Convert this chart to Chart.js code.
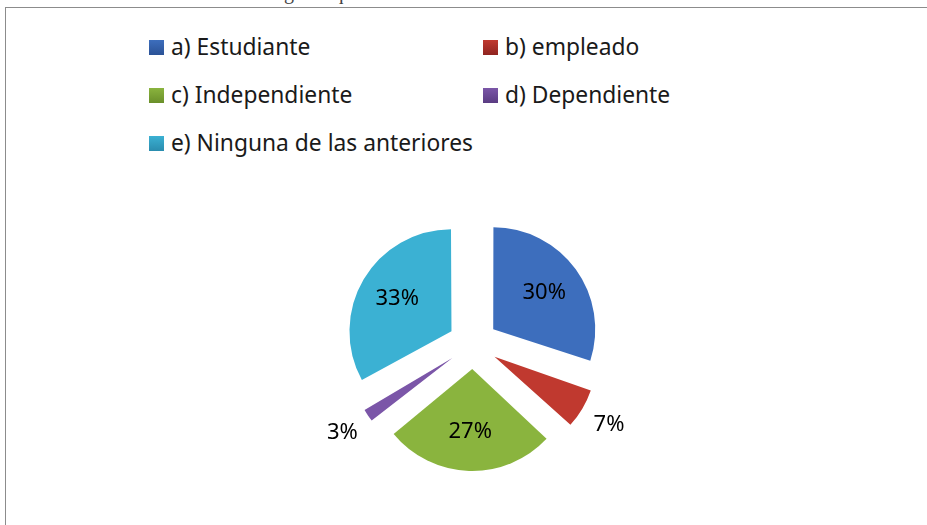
<!DOCTYPE html>
<html>
<head>
<meta charset="utf-8">
<script src="https://cdn.jsdelivr.net/npm/chart.js@4"></script>
<style>
  html, body { margin: 0; padding: 0; background: #fff; }
  #page { position: relative; width: 927px; height: 525px; overflow: hidden; }
  #titulo { position: absolute; left: 58px; top: -19px; font: 20px "Liberation Serif", serif; color: #444; white-space: nowrap; }
  #marco { position: absolute; left: 5px; top: 7px; width: 940px; height: 540px; border: 1.5px solid #8c8c8c; box-sizing: border-box; background: #fff; }
  #leyenda { position: absolute; left: 149px; top: 33px; font: 22.8px "Noto Sans", sans-serif; color: #1a1a1a; }
  .item { position: absolute; white-space: nowrap; height: 28px; line-height: 28px; }
  .item span.caja { position: absolute; left: 0; top: 7px; width: 15px; height: 15px; }
  .item span.txt { position: absolute; left: 22px; top: 0; }
  #wrap { position: absolute; left: 0; top: 0; width: 927px; height: 525px; }
</style>
</head>
<body>
<div id="page">
  <div id="titulo">Gráfico de la encuesta de negocio que actividad realiza</div>
  <div id="marco"></div>
  <div id="leyenda"></div>
  <div id="wrap"><canvas id="grafico"></canvas></div>
</div>
<script>
const categorias = ["a) Estudiante", "b) empleado", "c) Independiente", "d) Dependiente", "e) Ninguna de las anteriores"];
const porcentajes = [30, 7, 27, 3, 33];
const colores = ["#3d6ebd", "#c0392f", "#8ab43e", "#7b56a8", "#3bb1d3"];
const oscuros = ["#2b5296", "#8f2420", "#6a8f2a", "#5a3c82", "#2a8cae"];

const RADIO = 102;
const SEPARACION = 100; // Chart.js lo divide entre 4 al dibujar

// leyenda en dos columnas
const leyenda = document.getElementById("leyenda");
categorias.forEach((cat, i) => {
    const div = document.createElement("div");
    div.className = "item";
    div.style.left = (i % 2 === 0 ? 0 : 334) + "px";
    div.style.top = (Math.floor(i / 2) * 48) + "px";
    div.innerHTML = '<span class="caja" style="background:linear-gradient(' + colores[i] + ',' + oscuros[i] + ')"></span><span class="txt">' + cat + '</span>';
    leyenda.appendChild(div);
});

function relleno(context) {
    const chart = context.chart;
    const i = context.dataIndex;
    const arc = chart.getDatasetMeta(0).data[i];
    if (!arc || !arc.x) return colores[i];
    const g = chart.ctx.createRadialGradient(arc.x, arc.y, 0, arc.x, arc.y, RADIO + 25);
    g.addColorStop(0, colores[i]);
    g.addColorStop(0.8, colores[i]);
    g.addColorStop(1, oscuros[i]);
    return g;
}

// las porciones pequeñas crecen con el offset; se corrige el radio
const igualarRadio = {
    id: "igualarRadio",
    beforeDatasetsDraw(chart) {
        const meta = chart.getDatasetMeta(0);
        meta.data.forEach(arc => {
            const circ = arc.endAngle - arc.startAngle;
            const fix = 1 - Math.sin(Math.min(Math.PI, circ));
            arc.outerRadius = RADIO - (SEPARACION / 4) * fix;
        });
    }
};

const etiquetas = {
    id: "etiquetas",
    afterDatasetsDraw(chart) {
        const ctx = chart.ctx;
        const meta = chart.getDatasetMeta(0);
        ctx.save();
        ctx.font = '22px "Noto Sans", sans-serif';
        ctx.fillStyle = "#000";
        ctx.textAlign = "center";
        ctx.textBaseline = "middle";
        meta.data.forEach((arc, i) => {
            const mid = (arc.startAngle + arc.endAngle) / 2;
            const d = porcentajes[i] < 10 ? 158 : 88;
            const x = arc.x + Math.cos(mid) * d;
            const y = arc.y + Math.sin(mid) * d;
            ctx.fillText(porcentajes[i] + "%", x, y);
        });
        ctx.restore();
    }
};

new Chart(document.getElementById("grafico"), {
    type: "pie",
    data: {
        labels: categorias,
        datasets: [{
            data: porcentajes,
            backgroundColor: relleno,
            borderWidth: 0,
            offset: SEPARACION
        }]
    },
    options: {
        responsive: true,
        maintainAspectRatio: false,
        animation: false,
        radius: RADIO,
        layout: { padding: { left: 19, top: 163, right: 0, bottom: 0 } },
        plugins: {
            legend: { display: false },
            tooltip: { enabled: false }
        }
    },
    plugins: [igualarRadio, etiquetas]
});
</script>
</body>
</html>
